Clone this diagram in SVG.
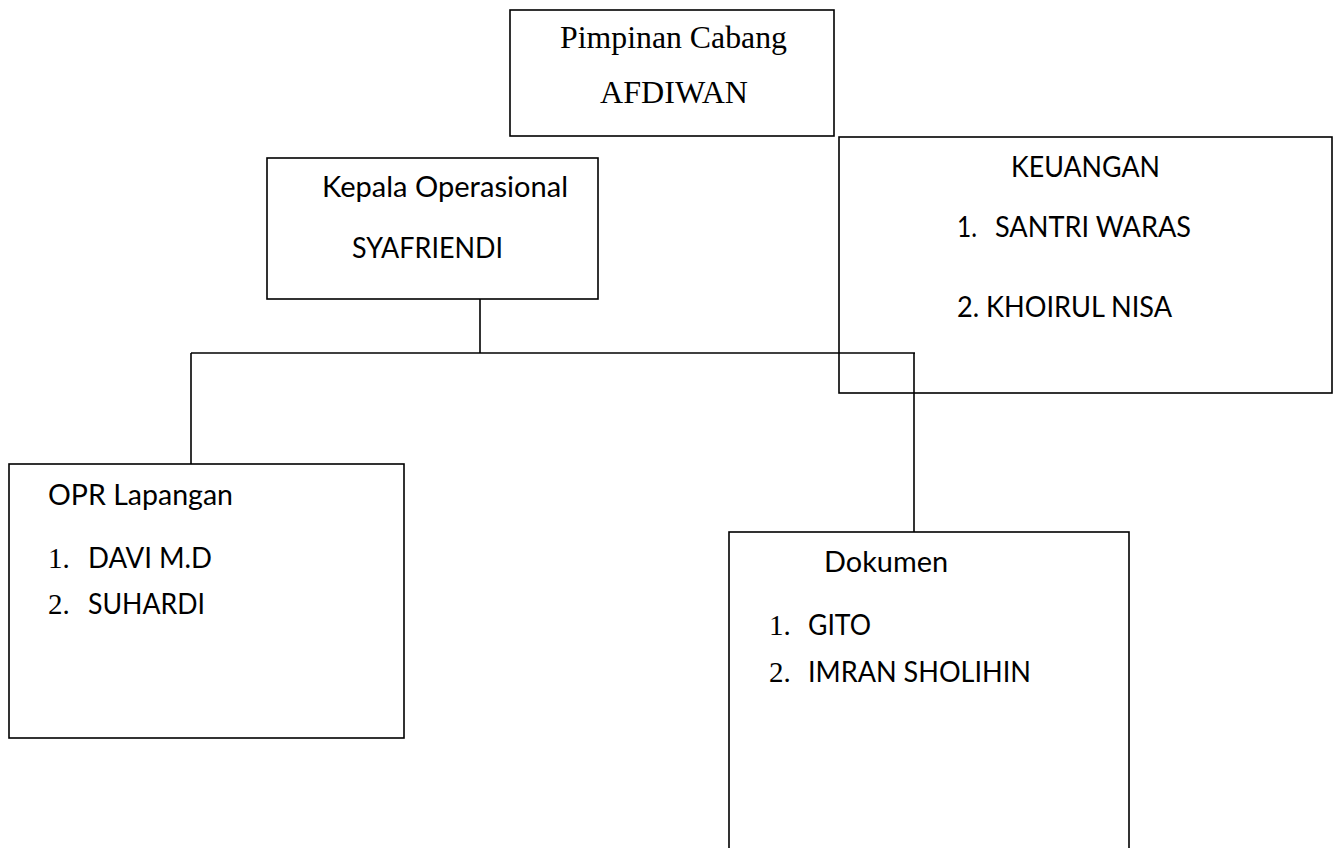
<svg xmlns="http://www.w3.org/2000/svg" width="1334" height="848" viewBox="0 0 1334 848">
<style>
.box{fill:#fff;stroke:#000;stroke-width:1.6}
.ln{fill:none;stroke:#000;stroke-width:1.6}
.serif{font-family:"Liberation Serif","Times New Roman",serif;fill:#000}
.sans{font-family:Lato,"Liberation Sans",Arial,sans-serif;fill:#000}
</style>
<rect width="1334" height="848" fill="#fff"/>
<g id="connectors">
<line class="ln" x1="480" y1="299" x2="480" y2="353"/>
<line class="ln" x1="191" y1="353" x2="915" y2="353"/>
<line class="ln" x1="191" y1="353" x2="191" y2="464"/>
<line class="ln" x1="914" y1="353" x2="914" y2="532"/>
</g>
<g id="pimpinan">
<rect class="box" x="510" y="10" width="324" height="126"/>
<text class="serif" x="560" y="48" font-size="31" textLength="227" lengthAdjust="spacingAndGlyphs">Pimpinan Cabang</text>
<text class="serif" x="600" y="103" font-size="31" textLength="148" lengthAdjust="spacingAndGlyphs">AFDIWAN</text>
</g>
<g id="kepala">
<rect class="box" x="267" y="158" width="331" height="141"/>
<text class="sans" x="322" y="197" font-size="29" textLength="246" lengthAdjust="spacingAndGlyphs">Kepala Operasional</text>
<text class="sans" x="352" y="258" font-size="29" textLength="151" lengthAdjust="spacingAndGlyphs">SYAFRIENDI</text>
</g>
<g id="keuangan">
<rect class="box" x="839" y="137" width="493" height="256" fill-opacity="0"/>
<text class="sans" x="1011" y="177" font-size="29" textLength="149" lengthAdjust="spacingAndGlyphs">KEUANGAN</text>
<text class="sans" x="957" y="237" font-size="29" textLength="20" lengthAdjust="spacingAndGlyphs">1.</text>
<text class="sans" x="995" y="237" font-size="29" textLength="196" lengthAdjust="spacingAndGlyphs">SANTRI WARAS</text>
<text class="sans" x="957" y="317" font-size="29" textLength="215" lengthAdjust="spacingAndGlyphs">2. KHOIRUL NISA</text>
</g>
<g id="opr">
<rect class="box" x="9" y="464" width="395" height="274"/>
<text class="sans" x="48" y="505" font-size="29" textLength="185" lengthAdjust="spacingAndGlyphs">OPR Lapangan</text>
<text class="serif" x="48" y="568" font-size="29">1.</text>
<text class="sans" x="88" y="568" font-size="29" textLength="124" lengthAdjust="spacingAndGlyphs">DAVI M.D</text>
<text class="serif" x="48" y="614" font-size="29">2.</text>
<text class="sans" x="88" y="614" font-size="29" textLength="117" lengthAdjust="spacingAndGlyphs">SUHARDI</text>
</g>
<g id="dokumen">
<rect class="box" x="729" y="532" width="400" height="330"/>
<text class="sans" x="824" y="572" font-size="29" textLength="124" lengthAdjust="spacingAndGlyphs">Dokumen</text>
<text class="serif" x="769" y="635" font-size="29">1.</text>
<text class="sans" x="808" y="635" font-size="29" textLength="63" lengthAdjust="spacingAndGlyphs">GITO</text>
<text class="serif" x="769" y="682" font-size="29">2.</text>
<text class="sans" x="808" y="682" font-size="29" textLength="223" lengthAdjust="spacingAndGlyphs">IMRAN SHOLIHIN</text>
</g>
</svg>
